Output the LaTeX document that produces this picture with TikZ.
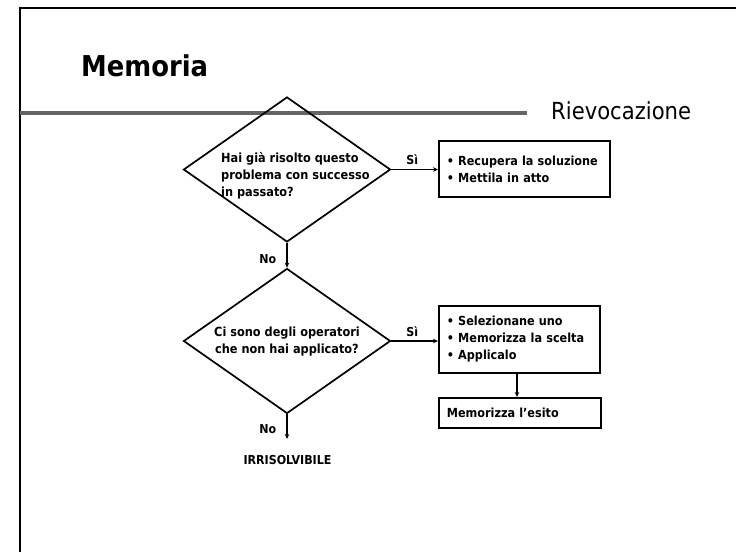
\documentclass[tikz,border=0pt]{standalone}
\usepackage{fontspec}
\setmainfont{DejaVu Sans Condensed}
\usetikzlibrary{shapes.geometric,arrows.meta}

\begin{document}
\begin{tikzpicture}[x=1bp,y=-1bp,
  frameline/.style={line width=2.7bp},
  ruleline/.style={line width=3.5bp, color=black!60},
  decision/.style={draw, diamond, line width=1.7bp, minimum width=207bp,
    minimum height=145bp, inner sep=0pt},
  stepbox/.style={draw, rectangle, line width=1.7bp, inner xsep=8bp,
    inner ysep=0pt, align=left, anchor=north west,
    font=\fontsize{12.5bp}{17bp}\selectfont\bfseries},
  qtext/.style={font=\fontsize{12.6bp}{17bp}\selectfont\bfseries, inner sep=0pt},
  lbl/.style={font=\fontsize{12.3bp}{14bp}\selectfont\bfseries, inner sep=0pt},
  flow/.style={line width=1.6bp, -{Stealth[length=5bp,width=4.5bp]}}
]
\useasboundingbox (0,0) rectangle (736,552);

% slide frame: top and left edges
\coordinate (ftl) at (20,8);
\coordinate (ftr) at (737,8);
\coordinate (fbl) at (20,553);
\draw[frameline] (ftr) -- (ftl) -- (fbl);

% title and header rule
\node[anchor=base west, inner sep=0pt, font=\fontsize{28.7bp}{34bp}\selectfont\bfseries]
  (title) at (81,77) {Memoria};
\coordinate (rl) at (20,113);
\coordinate (rr) at (527,113);
\draw[ruleline] (rl) -- (rr);
\node[anchor=base west, inner sep=0pt, font=\fontsize{23.5bp}{28bp}\selectfont]
  (sub) at (551,120) {Rievocazione};

% first decision
\node[decision] (d1) at (287,169.5) {};
\node[qtext, align=left, anchor=west] (q1) at (221,176)
  {Hai già risolto questo\\problema con successo\\in passato?};

\node[stepbox, minimum width=171bp, minimum height=56bp, text width=155bp]
  (b1) at (438,140) {• Recupera la soluzione\\• Mettila in atto};
\draw[flow] (d1.east) -- (d1.east -| b1.west) node[lbl, pos=0.45, above=4bp] (s1) {Sì};

% second decision
\node[decision] (d2) at (287,341) {};
\node[qtext, align=center] (q2) at (287,342)
  {Ci sono degli operatori\\che non hai applicato?};
\draw[flow] (d1.south) -- (d2.north) node[lbl, pos=0.65, left=10bp] (n1) {No};

\node[stepbox, minimum width=161bp, minimum height=67bp, text width=145bp]
  (b2) at (438,305) {• Selezionane uno\\• Memorizza la scelta\\• Applicalo};
\draw[flow] (d2.east) -- (d2.east -| b2.west) node[lbl, pos=0.45, above=4bp] (s2) {Sì};

\node[stepbox, minimum width=162bp, minimum height=30bp, text width=146bp]
  (b3) at (438,397) {Memorizza l’esito};
\coordinate (b2s) at (517,372);
\draw[flow] (b2s) -- (b2s |- b3.north);

% dead end
\coordinate (dend) at (287,439);
\draw[flow] (d2.south) -- (dend) node[lbl, pos=0.6, left=10bp] (n2) {No};
\node[lbl] (irr) at (287.5,460) {IRRISOLVIBILE};

\end{tikzpicture}
\end{document}
